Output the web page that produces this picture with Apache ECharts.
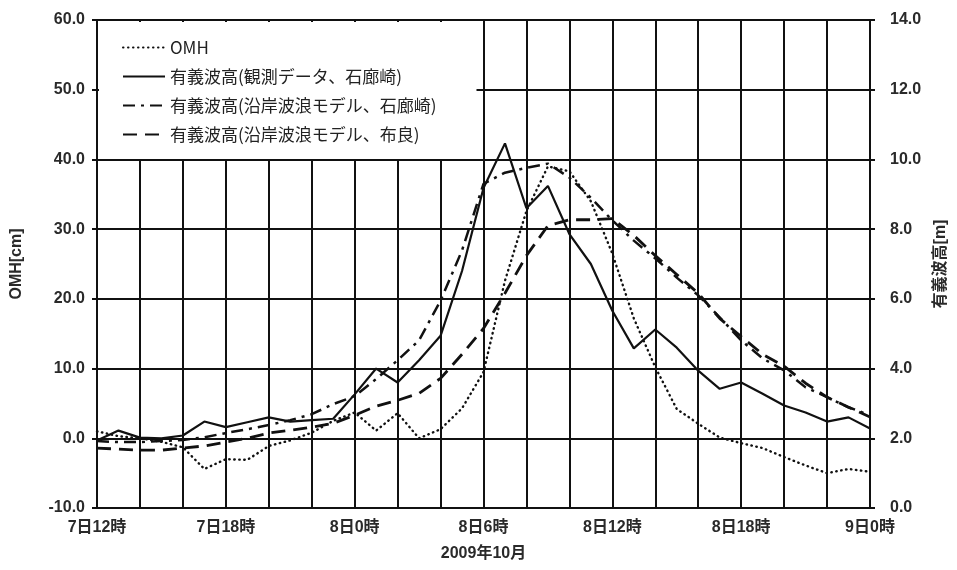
<!DOCTYPE html>
<html>
<head>
<meta charset="utf-8">
<script src="https://cdn.jsdelivr.net/npm/echarts@6/dist/echarts.min.js"></script>
<style>html,body{margin:0;padding:0;background:#fff;}#c{width:957px;height:570px;}</style>
</head>
<body>
<div id="c"></div>
<script>
const categories = ['7日12時','7日13時','7日14時','7日15時','7日16時','7日17時','7日18時','7日19時','7日20時','7日21時','7日22時','7日23時',
  '8日0時','8日1時','8日2時','8日3時','8日4時','8日5時','8日6時','8日7時','8日8時','8日9時','8日10時','8日11時',
  '8日12時','8日13時','8日14時','8日15時','8日16時','8日17時','8日18時','8日19時','8日20時','8日21時','8日22時','8日23時','9日0時'];
const leftTicks = {min: -10, max: 60, interval: 10};
const rightTicks = {min: 0, max: 14, interval: 2};
const seriesNames = ['OMH','有義波高(観測データ、石廊崎)','有義波高(沿岸波浪モデル、石廊崎)','有義波高(沿岸波浪モデル、布良)'];
const omh = [1.0,0.3,0.0,-0.5,-1.3,-4.4,-3.0,-3.1,-1.1,-0.3,0.8,2.5,3.7,1.1,3.6,0.0,1.3,4.3,9.5,22.6,32.6,39.0,38.3,34.0,26.5,17.2,10.2,4.2,2.1,0.1,-0.7,-1.4,-2.7,-3.9,-5.0,-4.4,-4.8];
const observedIrozaki = [1.94,2.22,2.02,2.0,2.08,2.48,2.32,2.46,2.6,2.48,2.52,2.56,3.26,4.0,3.6,4.24,4.94,6.8,9.18,10.46,8.6,9.24,7.86,7.0,5.66,4.58,5.12,4.6,3.94,3.42,3.6,3.28,2.94,2.74,2.48,2.6,2.28];
const modelIrozaki = [1.92,1.89,1.89,1.92,1.95,2.03,2.15,2.26,2.38,2.52,2.69,2.98,3.21,3.7,4.24,4.81,5.95,7.39,9.30,9.62,9.76,9.88,9.48,8.90,8.25,7.67,7.16,6.61,6.10,5.47,4.81,4.29,3.95,3.46,3.18,2.89,2.66];
const modelMera = [1.72,1.69,1.66,1.66,1.72,1.78,1.89,2.0,2.15,2.23,2.32,2.43,2.66,2.92,3.09,3.29,3.72,4.41,5.15,6.16,7.24,8.10,8.27,8.27,8.30,7.82,7.24,6.70,6.16,5.44,4.92,4.41,4.07,3.58,3.18,2.89,2.61];

const FONT = 'Liberation Sans, "Noto Sans CJK JP", sans-serif';
const lab = {fontFamily: FONT, fontWeight: 'bold', fontSize: 16, color: '#2a2a2a'};
const nameStyle = {fontFamily: FONT, fontWeight: 'bold', fontSize: 16, color: '#2a2a2a'};
const chart = echarts.init(document.getElementById('c'));
chart.setOption({
  animation: false,
  backgroundColor: '#fff',
  grid: {left: 97, right: 85, top: 20, bottom: 62},
  legend: {
    orient: 'vertical', left: 99, top: 22,
    backgroundColor: '#fff',
    padding: [17, 40, 16, 23],
    itemWidth: 42, itemHeight: 14, itemGap: 12,
    itemStyle: {opacity: 0},
    textStyle: {fontFamily: '"Noto Sans CJK JP", sans-serif', fontSize: 17, color: '#222'},
    data: seriesNames
  },
  xAxis: {
    type: 'category', data: categories, boundaryGap: false,
    name: '2009年10月', nameLocation: 'middle', nameGap: 38,
    nameTextStyle: nameStyle,
    axisLine: {lineStyle: {color: '#111', width: 2}},
    axisTick: {interval: 5, length: 6, lineStyle: {color: '#111', width: 2}},
    axisLabel: Object.assign({interval: 5, margin: 12}, lab),
    splitLine: {show: true, interval: 1, lineStyle: {color: '#111', width: 2}}
  },
  yAxis: [
    Object.assign({
      type: 'value', position: 'left',
      name: 'OMH[cm]', nameLocation: 'middle', nameGap: 72, nameRotate: 90,
      nameTextStyle: nameStyle,
      axisLine: {show: true, lineStyle: {color: '#111', width: 2}},
      axisTick: {show: true, length: 5, lineStyle: {color: '#111', width: 2}},
      axisLabel: Object.assign({margin: 12, formatter: v => v.toFixed(1)}, lab),
      splitLine: {show: true, lineStyle: {color: '#111', width: 2}}
    }, leftTicks),
    Object.assign({
      type: 'value', position: 'right',
      name: '有義波高[m]', nameLocation: 'middle', nameGap: 63, nameRotate: 90,
      nameTextStyle: nameStyle,
      axisLine: {show: true, lineStyle: {color: '#111', width: 2}},
      axisTick: {show: true, length: 5, lineStyle: {color: '#111', width: 2}},
      axisLabel: Object.assign({margin: 20, formatter: v => v.toFixed(1)}, lab),
      splitLine: {show: false}
    }, rightTicks)
  ],
  series: [
    {name: seriesNames[0], type: 'line', yAxisIndex: 0, data: omh, symbol: 'none', itemStyle: {color: '#111'},
     lineStyle: {color: '#111', width: 2.4, type: [0.5, 4.5], cap: 'round'}},
    {name: seriesNames[1], type: 'line', yAxisIndex: 1, data: observedIrozaki, symbol: 'none', itemStyle: {color: '#111'},
     lineStyle: {color: '#111', width: 2.2}},
    {name: seriesNames[2], type: 'line', yAxisIndex: 1, data: modelIrozaki, symbol: 'none', itemStyle: {color: '#111'},
     lineStyle: {color: '#111', width: 2.5, type: [12, 6, 3, 6]}},
    {name: seriesNames[3], type: 'line', yAxisIndex: 1, data: modelMera, symbol: 'none', itemStyle: {color: '#111'},
     lineStyle: {color: '#111', width: 2.8, type: [14, 8]}}
  ]
});
</script>
</body>
</html>
